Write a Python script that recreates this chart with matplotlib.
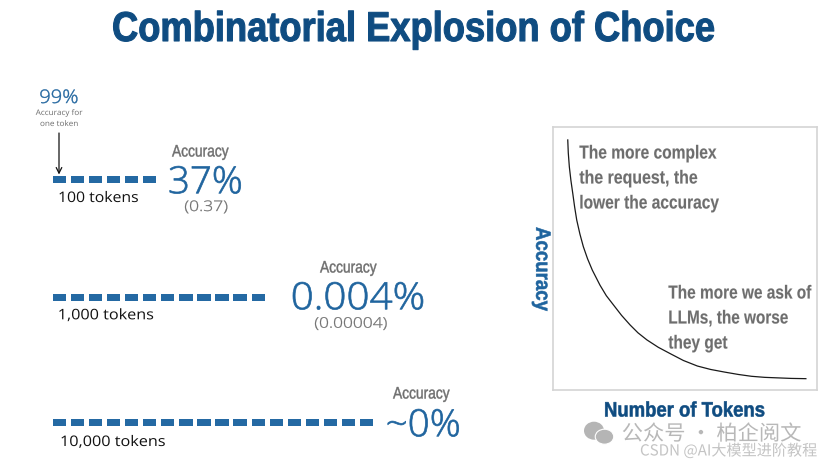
"""Combinatorial explosion slide: token dashes on the left, accuracy curve on the right."""
import matplotlib

matplotlib.use("Agg")
import matplotlib.pyplot as plt
from matplotlib.patches import Ellipse
from matplotlib.patheffects import AbstractPathEffect
from matplotlib.transforms import Affine2D

W, H = 828, 466
BLUE = "#1F649E"
TITLE_BLUE = "#0F4C81"
DASH = "#2469A3"
GREY = "#6E6E6E"
FRAME = "#D4D4D4"

token_labels = ["100 tokens", "1,000 tokens", "10,000 tokens"]
dash_counts = [6, 12, 18]
accuracy_pct = ["37%", "0.004%", "~0%"]
accuracy_raw = ["(0.37)", "(0.00004)", ""]

# curve, as share of the box
curve_tokens = [0.054, 0.056, 0.060, 0.066, 0.073, 0.080, 0.088, 0.100, 0.113, 0.129, 0.147, 0.176,
                0.200, 0.227, 0.258, 0.290, 0.320, 0.354, 0.397, 0.444, 0.492, 0.545, 0.595,
                0.648, 0.700, 0.750, 0.800, 0.850, 0.900, 0.956]
curve_accuracy = [0.949, 0.900, 0.847, 0.795, 0.746, 0.695, 0.645, 0.592, 0.544, 0.498, 0.455, 0.398,
                  0.358, 0.323, 0.283, 0.247, 0.217, 0.190, 0.162, 0.137, 0.112, 0.091, 0.078,
                  0.068, 0.059, 0.052, 0.048, 0.046, 0.044, 0.043]

SANS = "Open Sans"
HEAVY = "Liberation Sans"
CJK = ["Noto Sans CJK SC", "DejaVu Sans"]


class Squeeze(AbstractPathEffect):
    # no condensed font installed, so scale the glyphs along the text direction
    def __init__(self, sx, stroke=0.0):
        super().__init__()
        self.sx = sx
        self.stroke = stroke

    def draw_path(self, renderer, gc, tpath, affine, rgbFace=None):
        gc0 = renderer.new_gc()
        gc0.copy_properties(gc)
        gc0.set_linewidth(self.stroke)
        gc0.set_foreground(rgbFace)
        renderer.draw_path(gc0, tpath, Affine2D().scale(self.sx, 1) + affine, rgbFace)
        gc0.restore()


fig = plt.figure(figsize=(W / 100, H / 100), dpi=100, facecolor="white")
renderer = fig.canvas.get_renderer()

# whole slide in pixel coordinates
ax = fig.add_axes([0, 0, 1, 1])
ax.set_xlim(0, W)
ax.set_ylim(H, 0)
ax.axis("off")


def fit_text(x, y, s, width, stroke=0.0, rotation=0, **kw):
    """Text starting at x, scaled along its direction to span width pixels."""
    kw.setdefault("va", "center")
    t = ax.text(x, y, s, ha="left", rotation_mode="anchor", **kw)
    natural = t.get_window_extent(renderer).width
    t.set_rotation(rotation)
    t.set_path_effects([Squeeze(width / natural, stroke)])
    return t


fit_text(112, 41, "Combinatorial Explosion of Choice", 603, stroke=0.8, family=HEAVY, weight="bold",
         fontsize=30, color=TITLE_BLUE, va="baseline")

# token rows
row_y = [179, 297, 422.7]
label_x = [58, 57.7, 60]
label_y = [198.5, 315.8, 442.5]
label_w = [81, 96.6, 106]
acc_x = [168, 290.7, 385.7]
acc_y = [183, 299, 426]
acc_w = [75, 135, 75.3]
head_x = [172, 320, 393]
head_y = [152, 268, 394]
raw_x = [184.3, 314.3, None]
raw_y = [207.5, 324.2, None]
raw_w = [44, 74, None]
for i, n in enumerate(dash_counts):
    lefts = [53 + 18.05 * k for k in range(n)]
    ax.bar(lefts, 7, width=13.2, bottom=row_y[i] - 3.5, align="edge", color=DASH)
    fit_text(label_x[i], label_y[i], token_labels[i], label_w[i], family=SANS, fontsize=10.5,
             color="#111111")
    fit_text(head_x[i], head_y[i], "Accuracy", 57, family=HEAVY, fontsize=12, color=GREY, stroke=0.3)
    fit_text(acc_x[i], acc_y[i], accuracy_pct[i], acc_w[i], stroke=0.5, family=SANS, weight="light",
             fontsize=27, color=BLUE)
    if accuracy_raw[i]:
        fit_text(raw_x[i], raw_y[i], accuracy_raw[i], raw_w[i], stroke=0.2, family=SANS, weight="light",
                 fontsize=10.5, color=GREY)

# single token callout
fit_text(39.3, 98, "99%", 39, stroke=0.3, family=SANS, weight="light", fontsize=13.5, color=BLUE)
fit_text(35.7, 113.5, "Accuracy for", 46.3, family=SANS, fontsize=5.6, color=GREY)
fit_text(40, 124.5, "one token", 38, family=SANS, fontsize=5.6, color=GREY)
ax.annotate("", xy=(59, 174.5), xytext=(59, 133),
            arrowprops=dict(arrowstyle="->", color="#111111", lw=0.9, shrinkA=0, shrinkB=0))

# axis titles of the right chart
fit_text(541.7, 227, "Accuracy", 84.3, rotation=-90, stroke=0.4, family=HEAVY, weight="bold",
         fontsize=15, color=BLUE)
fit_text(604, 411, "Number of Tokens", 161.7, stroke=0.4, family=HEAVY, weight="bold", fontsize=15,
         color=TITLE_BLUE)

# watermark
ax.add_patch(Ellipse((594, 430.7), 20, 18, color="#B5B5B5", lw=0))
ax.add_patch(Ellipse((604.5, 436.7), 18.5, 15, facecolor="#B5B5B5", edgecolor="white", lw=0.8))
fit_text(621.7, 434, "公众号 · 柏企阅文", 180, family=CJK, fontsize=15, color="#B8B8B8")
fit_text(640, 451, "CSDN @AI大模型进阶教程", 177, family=CJK, fontsize=11, color="#C4C4C4")

# accuracy curve
box = fig.add_axes([553.5 / W, 1 - 390 / H, 264 / W, 263.5 / H])
box.patch.set_alpha(0)
box.plot(curve_tokens, curve_accuracy, color="#1A1A1A", lw=0.9)
box.set_xlim(0, 1)
box.set_ylim(0, 1)
box.set_xticks([])
box.set_yticks([])
for s in box.spines.values():
    s.set_color(FRAME)
    s.set_linewidth(1.2)

note_lines = ["The more complex", "the request, the", "lower the accuracy"]
note_w = [137, 118, 139.3]
note_y = [154, 179, 204]
for line, w, y in zip(note_lines, note_w, note_y):
    fit_text(579.3, y, line, w, stroke=0.1, family=HEAVY, weight="bold", fontsize=13.5, color=GREY)

note2_lines = ["The more we ask of", "LLMs, the worse", "they get"]
note2_w = [143, 120, 59]
note2_y = [294, 319, 344]
for line, w, y in zip(note2_lines, note2_w, note2_y):
    fit_text(668.3, y, line, w, stroke=0.1, family=HEAVY, weight="bold", fontsize=13.5, color=GREY)

fig.savefig("out.png", dpi=100, facecolor="white")
